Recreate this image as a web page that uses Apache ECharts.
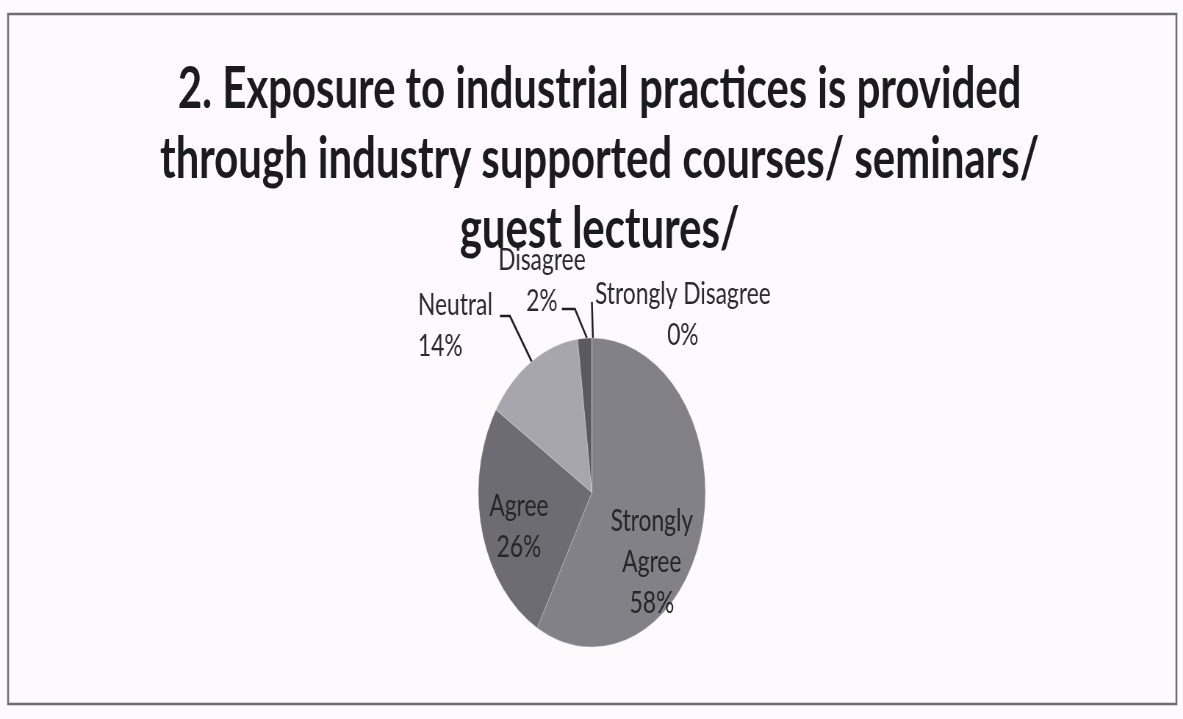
<!DOCTYPE html>
<html>
<head>
<meta charset="utf-8">
<script src="https://cdn.jsdelivr.net/npm/echarts@6/dist/echarts.min.js"></script>
<style>
  html, body { margin: 0; padding: 0; overflow: hidden; background: #fdf9fc; }
  #wrap { width: 1183px; height: 719px; overflow: hidden; position: relative; }
  #chart { width: 1610px; height: 719px; transform: scaleX(0.7348); transform-origin: 0 0; }
</style>
</head>
<body>
<div id="wrap"><div id="chart"></div></div>
<script>
// ---- data ----
const titleLines = [
  '2. Exposure to industrial practices is provided',
  'through industry supported courses/ seminars/',
  'guest lectures/'
];
const categories = ['Strongly Agree', 'Agree', 'Neutral', 'Disagree', 'Strongly Disagree'];
const percentValues = [58, 26, 14, 2, 0];
const sliceColors = ['#818187', '#6c6c72', '#a6a6ac', '#5a5a60', '#4a4a50'];

// ---- layout (unscaled px, relative to pie centre) ----
const CX = 805.5, CY = 492.5, R = 154.5;
const labelLayoutCfg = [
  { x: 81.6, y: 69.5, align: 'center' },
  { x: -99.3, y: 33.5, align: 'center' },
  { x: -236.7, y: -167.5, align: 'left', line: [[-81.6, -130.5], [-111.6, -176.5], [-125.2, -176.5]] },
  { x: -68, y: -212.5, align: 'center', line: [[-6.8, -154.5], [-23.1, -183.5], [-40.8, -183.5]] },
  { x: 123.8, y: -178, align: 'center', line: [[1.4, -154.5], [0, -190.5], [0, -190.5]] }
];

const chart = echarts.init(document.getElementById('chart'), null, { renderer: 'canvas' });

const data = categories.map((name, i) => {
  const inside = i < 2;
  return {
    name: name,
    value: percentValues[i],
    itemStyle: { color: sliceColors[i] },
    label: inside
      ? { position: 'inside', fontSize: 31, lineHeight: 41, color: '#262629' }
      : { position: 'outside', fontSize: 31, lineHeight: 41, color: '#2a2a2d' },
    labelLine: { show: !inside, lineStyle: { color: '#1e1e1e', width: 2.5 } }
  };
});

chart.setOption({
  backgroundColor: '#fdf9fc',
  animation: false,
  title: {
    text: titleLines.join('\n'),
    left: 816,
    textAlign: 'center',
    top: 55,
    padding: 0,
    textStyle: {
      fontFamily: 'Lato',
      fontWeight: 'bold',
      fontSize: 57,
      lineHeight: 70,
      color: '#1b1b1d'
    }
  },
  graphic: [{
    type: 'rect',
    shape: { x: 11, y: 14, width: 1590, height: 690 },
    style: { fill: 'none', stroke: '#6e6e6e', lineWidth: 2.5 },
    silent: true
  }],
  series: [{
    type: 'pie',
    center: [CX, CY],
    radius: R,
    startAngle: 90,
    clockwise: true,
    avoidLabelOverlap: false,
    data: data,
    itemStyle: { borderColor: 'rgba(230,230,235,0.35)', borderWidth: 1 },
    label: {
      fontFamily: 'Lato',
      formatter: p => (p.dataIndex === 0 ? p.name.replace(' ', '\n') : p.name) + '\n' + p.value + '%'
    },
    labelLayout: function (p) {
      const c = labelLayoutCfg[p.dataIndex];
      const o = { x: CX + c.x, y: CY + c.y, align: c.align, verticalAlign: 'middle' };
      if (c.line) o.labelLinePoints = c.line.map(pt => [CX + pt[0], CY + pt[1]]);
      return o;
    }
  }]
});
</script>
</body>
</html>
